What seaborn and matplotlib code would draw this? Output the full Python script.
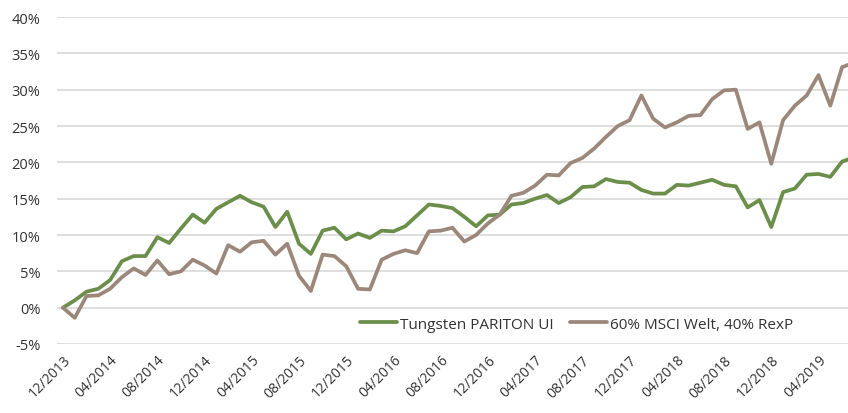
import matplotlib
matplotlib.use("Agg")
import matplotlib.pyplot as plt
import seaborn as sns
import pandas as pd
import numpy as np

# Monthly values from 12/2013 (percent)
tungsten = [0.0, 1.0, 2.2, 2.6, 3.8, 6.4, 7.1, 7.1, 9.7, 8.9,
            10.9, 12.8, 11.7, 13.6, 14.5, 15.4, 14.5, 13.9, 11.1, 13.2,
            8.8, 7.4, 10.6, 11.0, 9.4, 10.2, 9.6, 10.6, 10.5, 11.2,
            12.7, 14.2, 14.0, 13.7, 12.5, 11.2, 12.7, 12.8, 14.2, 14.4,
            15.0, 15.5, 14.4, 15.2, 16.6, 16.7, 17.7, 17.3, 17.2, 16.2,
            15.7, 15.7, 16.9, 16.8, 17.2, 17.6, 16.9, 16.7, 13.8, 14.8,
            11.1, 15.9, 16.4, 18.3, 18.4, 18.0, 20.1, 20.7]
benchmark = [0.0, -1.4, 1.6, 1.7, 2.6, 4.2, 5.4, 4.5, 6.5, 4.6,
             5.0, 6.6, 5.8, 4.7, 8.6, 7.7, 9.0, 9.2, 7.3, 8.8,
             4.4, 2.3, 7.3, 7.1, 5.7, 2.6, 2.5, 6.6, 7.4, 7.9,
             7.5, 10.5, 10.6, 11.0, 9.1, 10.0, 11.6, 12.8, 15.4, 15.8,
             16.8, 18.3, 18.2, 19.9, 20.6, 21.9, 23.5, 25.0, 25.8, 29.2,
             26.0, 24.8, 25.5, 26.4, 26.5, 28.7, 29.9, 30.0, 24.6, 25.5,
             19.8, 25.8, 27.8, 29.2, 32.0, 27.8, 33.1, 33.7]
series_names = ["Tungsten PARITON UI", "60% MSCI Welt, 40% RexP"]
tick_labels = ["12/2013", "04/2014", "08/2014", "12/2014", "04/2015", "08/2015",
               "12/2015", "04/2016", "08/2016", "12/2016", "04/2017", "08/2017",
               "12/2017", "04/2018", "08/2018", "12/2018", "04/2019"]
y_ticks = [-5, 0, 5, 10, 15, 20, 25, 30, 35, 40]

colors = ["#6B8F4A", "#9C887B"]

n = len(tungsten)
df = pd.DataFrame({
    "month": list(range(n)) * 2,
    "value": tungsten + benchmark,
    "series": [series_names[0]] * n + [series_names[1]] * n,
})

sns.set_style("white")
plt.rcParams["font.family"] = ["Open Sans", "DejaVu Sans"]

fig = plt.figure(figsize=(8.48, 4.14), dpi=100)
ax = fig.add_axes([57 / 848, 1 - 345 / 414, (848 - 57) / 848, (345 - 18) / 414])

sns.lineplot(data=df, x="month", y="value", hue="series", palette=colors,
             hue_order=series_names, linewidth=2.7, ax=ax, legend=True)

ax.set_xlim(-0.5, 66.5)
ax.set_ylim(-5, 40)
ax.set_yticks(y_ticks)
ax.set_yticklabels([f"{v}%" for v in y_ticks], fontsize=10.5, color="#333333")
ax.set_xticks(list(range(0, 4 * len(tick_labels), 4)))
ax.set_xticklabels(tick_labels, rotation=45, ha="right", va="top",
                   rotation_mode="anchor", fontsize=10, color="#333333")
ax.tick_params(axis="both", length=0)
ax.tick_params(axis="y", pad=12)
ax.tick_params(axis="x", pad=6)
ax.set_xlabel("")
ax.set_ylabel("")
for s in ax.spines.values():
    s.set_visible(False)
ax.grid(axis="y", color="#d9d9d9", linewidth=1.2)
ax.grid(axis="x", visible=False)
ax.set_axisbelow(True)

leg = ax.legend(loc="center", bbox_to_anchor=(0.657, 0.061), ncol=2,
                frameon=False, fontsize=11, handlelength=2.4,
                columnspacing=1.1, handletextpad=0.2)
for t in leg.get_texts():
    t.set_color("#333333")

fig.savefig("out.png", dpi=100)
